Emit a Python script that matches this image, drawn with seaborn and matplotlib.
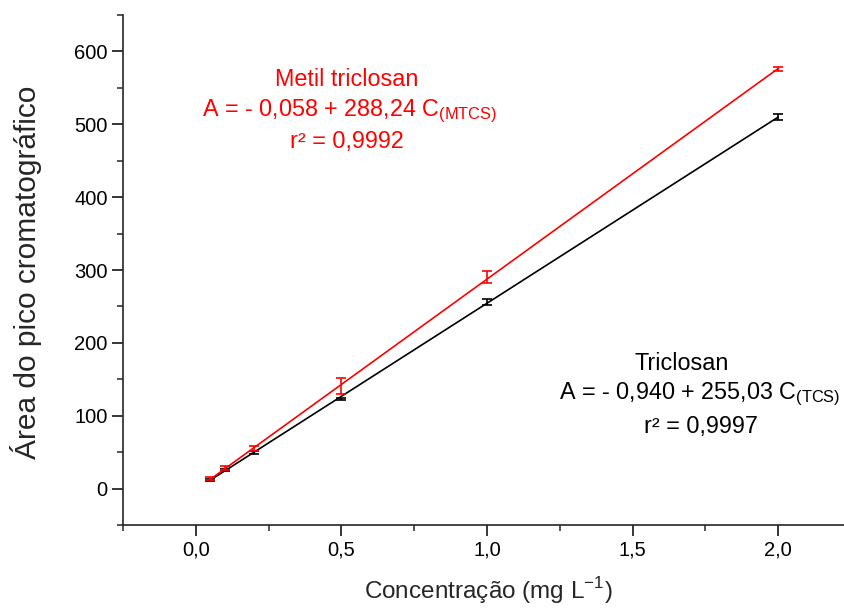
import matplotlib
matplotlib.use("Agg")
import matplotlib.pyplot as plt
import seaborn as sns
import numpy as np
import pandas as pd
from matplotlib.ticker import MultipleLocator, FuncFormatter

# ---- data ----
conc = [0.05, 0.10, 0.20, 0.50, 1.00, 2.00]
area_mtcs = [13.5, 28.0, 55.0, 141.0, 290.0, 576.0]
err_mtcs = [2.0, 3.0, 3.0, 11.0, 8.5, 3.0]
area_tcs = [12.0, 26.0, 50.0, 123.0, 256.0, 510.0]
err_tcs = [1.0, 1.5, 2.0, 1.0, 4.5, 3.5]

df = pd.DataFrame({"conc": conc * 2,
                   "area": area_mtcs + area_tcs,
                   "err": err_mtcs + err_tcs,
                   "comp": ["MTCS"] * 6 + ["TCS"] * 6})

sns.set_style("ticks")
plt.rcParams["font.family"] = ["Liberation Sans", "DejaVu Sans"]
plt.rcParams["mathtext.fontset"] = "custom"
plt.rcParams["mathtext.rm"] = "Liberation Sans"

W, H = 845, 609
fig = plt.figure(figsize=(W / 100, H / 100), dpi=100)
ax = fig.add_axes([123 / W, 1 - 525 / H, 1 - 123 / W, (525 - 15) / H])

colors = {"MTCS": "#ff0000", "TCS": "#000000"}
for comp in ["TCS", "MTCS"]:
    sub = df[df.comp == comp]
    sns.regplot(data=sub, x="conc", y="area", ax=ax, ci=None, scatter=False,
                truncate=True, color=colors[comp], line_kws={"lw": 1.2})
    ax.errorbar(sub["conc"], sub["area"], yerr=sub["err"], fmt="none",
                ecolor=colors[comp], elinewidth=1.2, capsize=3.6, capthick=1.2)

ax.set_xlim(-0.25, 2.229)
ax.set_ylim(-50, 650)
ax.xaxis.set_major_locator(MultipleLocator(0.5))
ax.xaxis.set_minor_locator(MultipleLocator(0.25))
ax.yaxis.set_major_locator(MultipleLocator(100))
ax.yaxis.set_minor_locator(MultipleLocator(50))
ax.xaxis.set_major_formatter(FuncFormatter(lambda v, p: f"{v:.1f}".replace(".", ",")))
ax.yaxis.set_major_formatter(FuncFormatter(lambda v, p: f"{v:.0f}"))
ax.tick_params(which="major", length=8, width=1.1, labelsize=14.5, pad=3, colors="#000000")
ax.tick_params(which="minor", length=4.5, width=1.1)
for s in ["top", "right"]:
    ax.spines[s].set_visible(False)
for s in ["left", "bottom"]:
    ax.spines[s].set_linewidth(1.2)

ax.set_xlabel("")
ax.set_ylabel("")
fig.text(488 / W, 1 - 591 / H, "Concentração (mg L$^{\\mathregular{-1}}$)",
         ha="center", va="center", fontsize=17.5)
fig.text(26 / W, 1 - 272 / H, "Área do pico cromatográfico",
         ha="center", va="center", rotation=90, fontsize=21.5)

def ftext(x, y, s, color, ha="center", size=16.8):
    fig.text(x / W, 1 - y / H, s, ha=ha, va="center", color=color, fontsize=size)

red = "#ff0000"
ftext(347, 80, "Metil triclosan", red)
ftext(350, 111, "A = - 0,058 + 288,24 C$_{\\mathregular{(MTCS)}}$", red)
ftext(347, 142, "r² = 0,9992", red)

ftext(682, 364, "Triclosan", "black")
ftext(700, 394, "A = - 0,940 + 255,03 C$_{\\mathregular{(TCS)}}$", "black")
ftext(701, 427, "r² = 0,9997", "black")

fig.savefig("out.png", dpi=100)
